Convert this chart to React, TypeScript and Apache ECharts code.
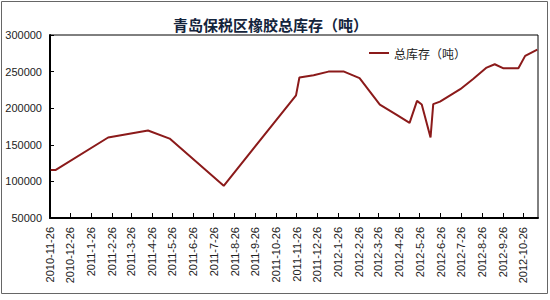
import React, { useEffect, useRef } from "react";
import * as echarts from "echarts";

const TITLE = "青岛保税区橡胶总库存（吨）";
const SERIES_NAME = "总库存（吨）";
const AXIS_START = "2010-11-26";
const AXIS_END = "2012-11-17";

const pointDates = [
  "2010-11-27", "2010-12-4", "2011-2-20", "2011-4-20", "2011-5-22",
  "2011-8-10", "2011-11-25", "2011-11-30", "2011-12-21", "2012-1-12",
  "2012-2-4", "2012-2-27", "2012-3-28", "2012-4-22", "2012-5-11",
  "2012-5-22", "2012-5-29", "2012-6-11", "2012-6-15", "2012-6-25",
  "2012-7-25", "2012-8-13", "2012-9-2", "2012-9-14", "2012-9-27",
  "2012-10-19", "2012-10-29", "2012-11-16",
];
const pointValues = [
  115500, 115500, 160000, 169500, 158500,
  94000, 217500, 242000, 245000, 250000,
  250000, 241000, 205000, 191000, 180000,
  210000, 205000, 160000, 205500, 209000,
  226000, 240000, 255500, 260000, 254500,
  254500, 271500, 280000,
];
const yMin = 50000;
const yMax = 300000;
const yInterval = 50000;

function fmt(d: Date) {
  return `${d.getUTCFullYear()}-${d.getUTCMonth() + 1}-${d.getUTCDate()}`;
}
function parse(s: string) {
  const [y, m, d] = s.split("-").map(Number);
  return new Date(Date.UTC(y, m - 1, d));
}
function buildCategories(start: string, end: string) {
  const out: string[] = [];
  const d = parse(start);
  const e = parse(end);
  while (d.getTime() <= e.getTime()) {
    out.push(fmt(d));
    d.setUTCDate(d.getUTCDate() + 1);
  }
  return out;
}

export default function App() {
  const ref = useRef<HTMLDivElement>(null);
  useEffect(() => {
    if (!ref.current) return;
    const chart = echarts.init(ref.current, undefined, { renderer: "svg" });
    const categories = buildCategories(AXIS_START, AXIS_END);
    const isTick = (_i: number, v: string) => v.endsWith("-26");
    const numFont = "'Liberation Sans', Arial, sans-serif";
    chart.setOption({
      animation: false,
      backgroundColor: "#ffffff",
      title: {
        text: TITLE,
        left: 168,
        top: 12,
        textStyle: {
          fontSize: 15,
          fontWeight: "bold",
          color: "#14243c",
          fontFamily: "'Noto Sans CJK SC', sans-serif",
        },
      },
      graphic: [
        {
          type: "rect",
          shape: { x: 1.5, y: 1.5, width: 546, height: 292 },
          style: { fill: "none", stroke: "#666", lineWidth: 1 },
          silent: true,
        },
      ],
      legend: {
        left: 364,
        top: 42,
        itemWidth: 20,
        itemHeight: 2,
        itemGap: 4,
        icon: "rect",
        textStyle: {
          fontSize: 12,
          color: "#222",
          fontFamily: "'Noto Sans CJK SC', sans-serif",
        },
        data: [SERIES_NAME],
      },
      grid: {
        left: 50,
        right: 12,
        top: 35,
        bottom: 82,
        show: true,
        borderColor: "#000",
        borderWidth: 1,
        backgroundColor: "#fff",
      },
      xAxis: {
        type: "category",
        data: categories,
        boundaryGap: false,
        axisLine: { lineStyle: { color: "#000", width: 2 } },
        axisTick: { inside: true, length: 5, interval: isTick, lineStyle: { color: "#000", width: 1 } },
        axisLabel: {
          interval: isTick,
          rotate: 90,
          margin: 9,
          fontSize: 11,
          color: "#222",
          fontFamily: numFont,
        },
        splitLine: { show: false },
      },
      yAxis: {
        type: "value",
        min: yMin,
        max: yMax,
        interval: yInterval,
        axisLine: { show: true, lineStyle: { color: "#000", width: 2 } },
        axisTick: { show: true, inside: true, length: 4, lineStyle: { color: "#000" } },
        axisLabel: {
          fontSize: 11,
          color: "#222",
          margin: 8,
          fontFamily: numFont,
          formatter: (v: number) => String(v),
        },
        splitLine: { show: false },
      },
      series: [
        {
          name: SERIES_NAME,
          type: "line",
          data: pointDates.map((d, i) => [d, pointValues[i]]),
          showSymbol: false,
          symbol: "none",
          lineStyle: { color: "#8b1a1a", width: 2 },
          itemStyle: { color: "#8b1a1a" },
        },
      ],
    });
    return () => chart.dispose();
  }, []);
  return (
    <div
      ref={ref}
      style={{ position: "absolute", left: 0, top: 0, width: 550, height: 300 }}
    />
  );
}
